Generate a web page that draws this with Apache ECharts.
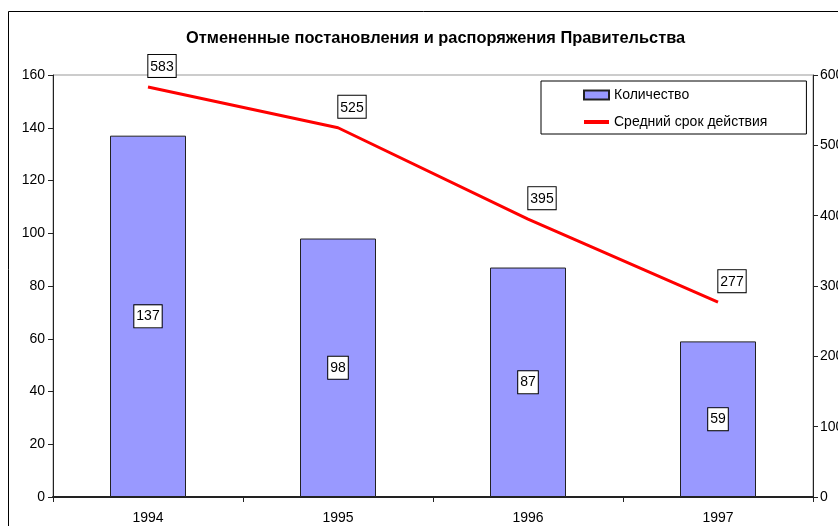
<!DOCTYPE html>
<html>
<head>
<meta charset="utf-8">
<script src="https://cdn.jsdelivr.net/npm/echarts@6/dist/echarts.min.js"></script>
<style>
html,body{margin:0;padding:0;background:#fff;overflow:hidden;}
#c{width:838px;height:526px;}
</style>
</head>
<body>
<div id="c"></div>
<script>
var years = ['1994', '1995', '1996', '1997'];
var counts = [137, 98, 87, 59];
var avgDuration = [583, 525, 395, 277];
var leftTicks = [0, 160, 20];
var rightTicks = [0, 600, 100];

var chart = echarts.init(document.getElementById('c'));
var font = 'Liberation Sans, Arial, sans-serif';
var boxLabel = {
  show: true,
  color: '#000',
  fontSize: 14,
  fontFamily: font,
  backgroundColor: '#fff',
  borderColor: '#000',
  borderWidth: 1,
  padding: [5, 2, 3, 2]
};
chart.setOption({
  animation: false,
  backgroundColor: '#fff',
  textStyle: {fontFamily: font},
  graphic: [{
    type: 'rect',
    shape: {x: 8.5, y: 11.5, width: 840, height: 530},
    style: {fill: 'none', stroke: '#000', lineWidth: 1}
  }],
  title: {
    text: 'Отмененные постановления и распоряжения Правительства',
    left: 181,
    top: 25,
    textStyle: {fontSize: 16.4, fontWeight: 'bold', color: '#000', fontFamily: font}
  },
  legend: {
    orient: 'vertical',
    left: 541,
    top: 81,
    padding: [7, 39, 5, 41],
    backgroundColor: '#fff',
    borderColor: '#000',
    borderWidth: 1,
    itemGap: 13,
    itemWidth: 25,
    itemHeight: 9,
    textStyle: {fontSize: 14, color: '#000', fontFamily: font},
    data: [
      {name: 'Количество', icon: 'rect'},
      {name: 'Средний срок действия', itemStyle: {opacity: 0}, lineStyle: {width: 4, color: '#ff0000'}}
    ]
  },
  grid: {
    left: 53, right: 25, top: 75, bottom: 29,
    outerBoundsMode: 'none',
    containLabel: false,
    show: true, borderColor: '#999', borderWidth: 1
  },
  xAxis: {
    type: 'category',
    data: years,
    boundaryGap: true,
    axisLine: {lineStyle: {color: '#222', width: 2}},
    axisTick: {show: true, alignWithLabel: false, length: 5, lineStyle: {color: '#222'}},
    axisLabel: {color: '#000', fontSize: 14, fontFamily: font, margin: 14}
  },
  yAxis: [{
    type: 'value',
    min: leftTicks[0], max: leftTicks[1], interval: leftTicks[2],
    axisLine: {show: true, lineStyle: {color: '#222', width: 1}},
    axisTick: {show: true, length: 5, lineStyle: {color: '#222'}},
    splitLine: {show: false},
    axisLabel: {color: '#000', fontSize: 14, fontFamily: font, margin: 8}
  }, {
    type: 'value',
    position: 'right',
    min: rightTicks[0], max: rightTicks[1], interval: rightTicks[2],
    axisLine: {show: true, lineStyle: {color: '#222', width: 1}},
    axisTick: {show: true, length: 5, lineStyle: {color: '#222'}},
    splitLine: {show: false},
    axisLabel: {color: '#000', fontSize: 14, fontFamily: font, margin: 7}
  }],
  series: [{
    name: 'Количество',
    type: 'bar',
    data: counts,
    barWidth: '40%',
    itemStyle: {color: '#9999ff', borderColor: '#222', borderWidth: 1},
    label: Object.assign({}, boxLabel, {position: 'inside'})
  }, {
    name: 'Средний срок действия',
    type: 'line',
    yAxisIndex: 1,
    data: avgDuration,
    symbol: 'circle',
    symbolSize: 0,
    showSymbol: true,
    lineStyle: {color: '#ff0000', width: 3},
    itemStyle: {color: '#ff0000'},
    label: Object.assign({}, boxLabel, {position: 'top', distance: 10, offset: [14, 0]})
  }]
});
</script>
</body>
</html>
